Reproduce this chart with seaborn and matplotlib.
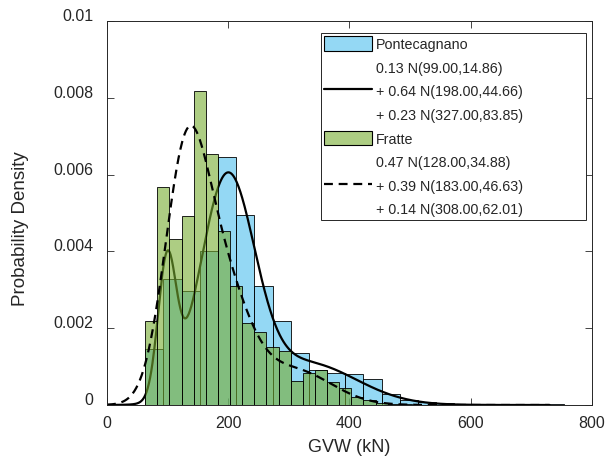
import matplotlib
matplotlib.use("Agg")
import matplotlib.pyplot as plt
import matplotlib.transforms as mtransforms
from matplotlib.patches import Patch
from matplotlib.lines import Line2D
import numpy as np
import pandas as pd
import seaborn as sns

# histogram bins (kN) and bar heights (probability density)
ponte_first_edge = 63
ponte_bin_width = 30
ponte_density = [0.00147, 0.00328, 0.00297, 0.00402, 0.00645, 0.00496, 0.00311,
                 0.00218, 0.00135, 0.00091, 0.00083, 0.00081, 0.00068, 0.00029,
                 0.00014, 0.00007, 0.00006, 0.00003, 0.00003, 0.00002, 0.00002,
                 0.00002, 0.00002]

fratte_first_edge = 63
fratte_bin_width = 20
fratte_density = [0.00220, 0.00567, 0.00432, 0.00491, 0.00817, 0.00653, 0.00454,
                  0.00309, 0.00213, 0.00191, 0.00152, 0.00140, 0.00063, 0.00083,
                  0.00092, 0.00059, 0.00043, 0.00020, 0.00014, 0.00005, 0.00003,
                  0.00002]

# fitted gaussian mixtures, as printed in the legend
ponte_weights = [0.13, 0.64, 0.23]
ponte_means = [99.00, 198.00, 327.00]
ponte_sigmas = [14.86, 44.66, 83.85]

fratte_weights = [0.47, 0.39, 0.14]
fratte_means = [128.00, 183.00, 308.00]
fratte_sigmas = [34.88, 46.63, 62.01]

x_ticks = [0, 200, 400, 600, 800]
y_ticks = [0, 0.002, 0.004, 0.006, 0.008, 0.01]
y_tick_labels = ["0", "0.002", "0.004", "0.006", "0.008", "0.01"]

BLUE = (0.3010, 0.7450, 0.9330)
GREEN = (0.4660, 0.6740, 0.1880)
FACE_ALPHA = 0.6
TEXT = "#262626"
DASH = (0, (4, 2.6))


def bins_frame(first_edge, width, heights):
    left = first_edge + width * np.arange(len(heights))
    return pd.DataFrame({"center": left + width / 2, "density": heights})


def mixture_pdf(x, weights, means, sigmas):
    total = np.zeros_like(x)
    for w, m, s in zip(weights, means, sigmas):
        total += w * np.exp(-0.5 * ((x - m) / s) ** 2) / (s * np.sqrt(2 * np.pi))
    return total


def draw_hist(ax, df, first_edge, width, color, z):
    n_before = len(ax.patches)
    sns.histplot(data=df, x="center", weights="density", binwidth=width,
                 binrange=(first_edge, first_edge + width * len(df)),
                 stat="count", ax=ax, legend=False)
    for p in ax.patches[n_before:]:
        p.set_alpha(None)
        p.set_facecolor(color + (FACE_ALPHA,))
        p.set_edgecolor("black")
        p.set_linewidth(0.6)
        p.set_zorder(z)


def draw_fit(ax, df, style, z):
    sns.lineplot(data=df, x="x", y="y", ax=ax, color="black", linewidth=1.6,
                 linestyle=style)
    ax.lines[-1].set_zorder(z)


def main():
    sns.set_style("ticks")
    plt.rcParams["font.family"] = ["Liberation Sans", "DejaVu Sans"]

    fig = plt.figure(figsize=(6.1, 4.6), dpi=100)
    ax = fig.add_axes([0.1754, 0.1174, 0.7951, 0.8348])

    ponte = bins_frame(ponte_first_edge, ponte_bin_width, ponte_density)
    fratte = bins_frame(fratte_first_edge, fratte_bin_width, fratte_density)

    grid = np.linspace(0, 730, 731)
    ponte_fit = pd.DataFrame({"x": grid,
                              "y": mixture_pdf(grid, ponte_weights, ponte_means, ponte_sigmas)})
    fratte_fit = pd.DataFrame({"x": grid,
                               "y": mixture_pdf(grid, fratte_weights, fratte_means, fratte_sigmas)})

    # order matters: the solid fit sits between the two histograms
    draw_hist(ax, ponte, ponte_first_edge, ponte_bin_width, BLUE, 1)
    draw_fit(ax, ponte_fit, "-", 2)
    draw_hist(ax, fratte, fratte_first_edge, fratte_bin_width, GREEN, 3)
    draw_fit(ax, fratte_fit, DASH, 4)

    ax.set_xlim(0, 800)
    ax.set_ylim(0, 0.01)
    ax.set_xticks(x_ticks)
    ax.set_yticks(y_ticks)
    ax.set_yticklabels(y_tick_labels)
    ax.tick_params(direction="in", top=True, right=True, length=5, width=0.6,
                   labelsize=11.5, colors=TEXT)
    ax.tick_params(axis="x", pad=7)
    ax.tick_params(axis="y", pad=10)
    for spine in ax.spines.values():
        spine.set_visible(True)
        spine.set_color(TEXT)
        spine.set_linewidth(0.7)
        spine.set_zorder(5)

    # tick labels on the y axis sit a little above their ticks in the original
    shift = mtransforms.ScaledTranslation(0, 5 / 72, fig.dpi_scale_trans)
    for lab in ax.get_yticklabels():
        lab.set_transform(lab.get_transform() + shift)

    ax.set_xlabel("GVW (kN)", fontsize=13, color=TEXT, labelpad=6)
    ax.set_ylabel("Probability Density", fontsize=13.5, color=TEXT)
    ax.yaxis.set_label_coords(-0.16, 0.461)

    blank = Line2D([], [], color="none")
    handles = [
        Patch(facecolor=BLUE + (FACE_ALPHA,), edgecolor="black", linewidth=0.8),
        blank,
        Line2D([], [], color="black", linewidth=1.6),
        blank,
        Patch(facecolor=GREEN + (FACE_ALPHA,), edgecolor="black", linewidth=0.8),
        blank,
        Line2D([], [], color="black", linewidth=1.6, linestyle=DASH),
        blank,
    ]
    labels = [
        "Pontecagnano",
        "0.13 N(99.00,14.86)",
        "+ 0.64 N(198.00,44.66)",
        "+ 0.23 N(327.00,83.85)",
        "Fratte",
        "0.47 N(128.00,34.88)",
        "+ 0.39 N(183.00,46.63)",
        "+ 0.14 N(308.00,62.01)",
    ]
    leg = ax.legend(handles, labels, loc="upper left",
                    bbox_to_anchor=(0.441, 0.474, 0.547, 0.495), mode="expand",
                    borderaxespad=0, fontsize=10.3, frameon=True, fancybox=False,
                    framealpha=1, edgecolor=TEXT, handlelength=3.3,
                    handleheight=1.15, handletextpad=0.3, labelspacing=0.6,
                    borderpad=0.25)
    leg.get_frame().set_linewidth(0.7)
    leg.set_zorder(6)
    for t in leg.get_texts():
        t.set_color(TEXT)

    fig.savefig("out.png", dpi=100)


if __name__ == "__main__":
    main()
